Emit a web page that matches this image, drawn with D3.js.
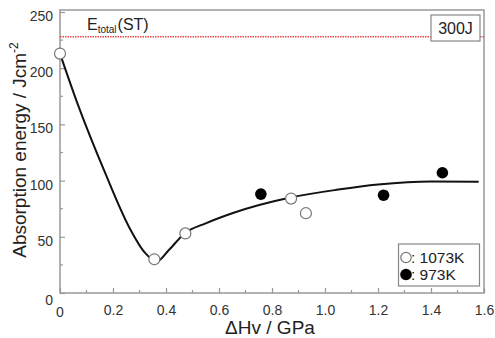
<!DOCTYPE html>
<html><head><meta charset="utf-8">
<script src="https://cdn.jsdelivr.net/npm/d3@7"></script>
<style>body{margin:0;background:#fff}svg{display:block}text{font-family:"Liberation Sans",Arial,sans-serif}</style>
</head><body><svg id="c" width="495" height="338"></svg>
<script>
const openX = [0, 0.356, 0.473, 0.872, 0.928];
const openY = [213, 30, 53, 84, 71];
const filledX = [0.758, 1.221, 1.443];
const filledY = [88, 87, 107];
const fitX = [0, 0.07, 0.17, 0.26, 0.32, 0.365, 0.41, 0.47, 0.55, 0.65, 0.87, 1.05, 1.2, 1.4, 1.58];
const fitY = [213, 166, 107, 59, 36, 28, 38, 53, 62, 71, 85, 92, 96.5, 99.3, 99];
const eTotal = 228;
const xTicks = [0, 0.2, 0.4, 0.6, 0.8, 1.0, 1.2, 1.4, 1.6];
const xTickLabels = ["0", "0.2", "0.4", "0.6", "0.8", "1.0", "1.2", "1.4", "1.6"];
const yTicks = [0, 50, 100, 150, 200, 250];
const legendLabels = [": 1073K", ": 973K"];

const svg = d3.select("#c");
const L = 60, R = 484, T = 12, B = 293;
const x = d3.scaleLinear().domain([0, 1.6]).range([L, R]);
const y = d3.scaleLinear().domain([0, 250]).range([B, T]);
const axCol = "#999", txtCol = "#333";

// frame
svg.append("rect").attr("x", L).attr("y", 10).attr("width", R - L).attr("height", B - 10)
  .attr("fill", "none").attr("stroke", axCol).attr("stroke-width", 1.5);

// x axis ticks (inward)
const xMinor = d3.range(0.1, 1.6, 0.2);
const gx = svg.append("g").attr("transform", `translate(0,${B})`)
  .call(d3.axisBottom(x).tickValues(xTicks).tickSize(-5).tickPadding(12)
    .tickFormat((d, i) => xTickLabels[i]));
gx.select(".domain").remove();
gx.selectAll("line").attr("stroke", axCol).attr("stroke-width", 1.2);
gx.selectAll("text").attr("font-size", 14).attr("fill", txtCol).attr("dy", "0.71em");
gx.selectAll("text").filter(d => d === 0).remove();
svg.append("g").selectAll("line").data(xMinor).join("line")
  .attr("x1", d => x(d)).attr("x2", d => x(d)).attr("y1", B).attr("y2", B - 3)
  .attr("stroke", axCol).attr("stroke-width", 1.2);
svg.append("text").attr("x", x(0)).attr("y", 317).attr("text-anchor", "middle")
  .attr("font-size", 14).attr("fill", txtCol).text("0");

// y axis
const gy = svg.append("g").attr("transform", `translate(${L},0)`)
  .call(d3.axisLeft(y).tickValues(yTicks).tickSize(-5).tickPadding(12));
gy.select(".domain").remove();
gy.selectAll("line").attr("stroke", axCol).attr("stroke-width", 1.2);
gy.selectAll("text").attr("font-size", 14).attr("fill", txtCol)
  .attr("dy", d => d === 0 ? "0.85em" : "0.6em").attr("x", -7);
svg.append("g").selectAll("line").data(d3.range(25, 250, 50)).join("line")
  .attr("x1", L).attr("x2", L + 3).attr("y1", d => y(d)).attr("y2", d => y(d))
  .attr("stroke", axCol).attr("stroke-width", 1.2);

// axis titles
svg.append("text").attr("x", 270).attr("y", 334).attr("text-anchor", "middle")
  .attr("font-size", 19).attr("fill", "#222").text("ΔHv / GPa");
const yt = svg.append("text").attr("transform", "translate(26,150) rotate(-90)")
  .attr("text-anchor", "middle").attr("font-size", 19).attr("fill", "#222");
yt.append("tspan").text("Absorption energy / Jcm");
yt.append("tspan").attr("font-size", 12).attr("dy", -8).text("-2");

// E_total line
svg.append("line").attr("x1", L).attr("x2", R).attr("y1", y(eTotal)).attr("y2", y(eTotal))
  .attr("stroke", "#e8474a").attr("stroke-width", 1.5).attr("stroke-dasharray", "1.5,1");
const et = svg.append("text").attr("x", 87).attr("y", 30).attr("font-size", 16).attr("fill", "#222");
et.append("tspan").text("E");
et.append("tspan").attr("font-size", 10).attr("dy", 3).text("total");
et.append("tspan").attr("dy", -3).attr("dx", 1).text("(ST)");

// 300J box
svg.append("rect").attr("x", 431).attr("y", 15).attr("width", 49).attr("height", 26)
  .attr("fill", "#fff").attr("stroke", "#888").attr("stroke-width", 1.2);
svg.append("text").attr("x", 455.5).attr("y", 34).attr("text-anchor", "middle")
  .attr("font-size", 16).attr("fill", "#222").text("300J");

// fitted curve
const fit = fitX.map((d, i) => [d, fitY[i]]);
svg.append("path").datum(fit)
  .attr("d", d3.line().x(d => x(d[0])).y(d => y(d[1])).curve(d3.curveMonotoneX))
  .attr("fill", "none").attr("stroke", "#111").attr("stroke-width", 2);

// points
svg.append("g").selectAll("circle").data(openX.map((d, i) => [d, openY[i]])).join("circle")
  .attr("cx", d => x(d[0])).attr("cy", d => y(d[1])).attr("r", 5.5)
  .attr("fill", "#fff").attr("stroke", "#777").attr("stroke-width", 1.2);
svg.append("g").selectAll("circle").data(filledX.map((d, i) => [d, filledY[i]])).join("circle")
  .attr("cx", d => x(d[0])).attr("cy", d => y(d[1])).attr("r", 5.8).attr("fill", "#000");

// legend
svg.append("rect").attr("x", 398.5).attr("y", 244).attr("width", 81).attr("height", 42)
  .attr("fill", "#fff").attr("stroke", "#888").attr("stroke-width", 1.2);
svg.append("circle").attr("cx", 406).attr("cy", 257.5).attr("r", 5.2)
  .attr("fill", "#fff").attr("stroke", "#777").attr("stroke-width", 1.2);
svg.append("circle").attr("cx", 406).attr("cy", 274.5).attr("r", 5.8).attr("fill", "#000");
svg.selectAll(".lg").data(legendLabels).join("text").attr("class", "lg")
  .attr("x", 411).attr("y", (d, i) => 263 + i * 17).attr("font-size", 15.5).attr("fill", "#222")
  .text(d => d);
</script></body></html>
